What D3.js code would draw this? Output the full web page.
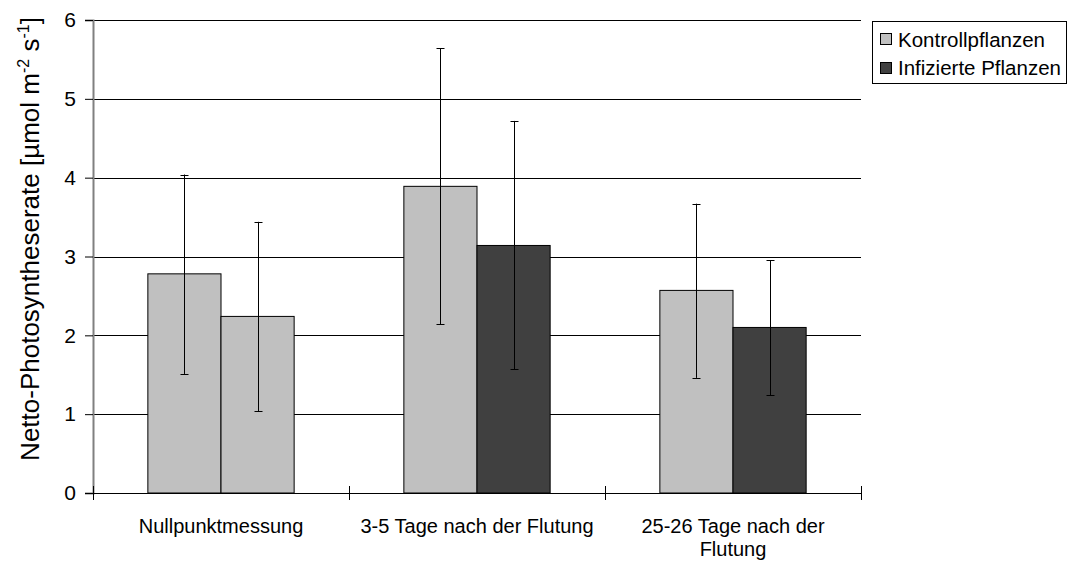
<!DOCTYPE html>
<html><head><meta charset="utf-8">
<script src="https://cdn.jsdelivr.net/npm/d3@7"></script>
<style>body{margin:0;background:#fff}svg{display:block;font-family:"Liberation Sans",Arial,sans-serif}</style>
</head><body>
<svg id="c" width="1069" height="561"></svg>
<script>
const categories = ["Nullpunktmessung", "3-5 Tage nach der Flutung", "25-26 Tage nach der Flutung"];
const categoryLines = [["Nullpunktmessung"], ["3-5 Tage nach der Flutung"], ["25-26 Tage nach der", "Flutung"]];
const seriesNames = ["Kontrollpflanzen", "Infizierte Pflanzen"];
const kontrollValues = [2.78, 3.89, 2.57];
const kontrollErrLow = [1.51, 2.14, 1.46];
const kontrollErrHigh = [4.04, 5.64, 3.67];
const infiziertValues = [2.24, 3.14, 2.10];
const infiziertErrLow = [1.04, 1.57, 1.24];
const infiziertErrHigh = [3.44, 4.72, 2.95];
const yTicks = [0, 1, 2, 3, 4, 5, 6];
// fill per bar: the first group's infected bar is light grey in the original
const infiziertFills = ["#c0c0c0", "#404040", "#404040"];
const kontrollFill = "#c0c0c0";

const svg = d3.select("#c");
const L = 93, R = 861, T = 20, B = 493;
const x0 = d3.scaleBand().domain(categories).range([L, R]).paddingInner(0).paddingOuter(0);
const y = d3.scaleLinear().domain([0, 6]).range([B, T]);
const barW = x0.bandwidth() / 3.5;

// gridlines
svg.append("g").selectAll("line").data(yTicks.filter(d => d > 0)).join("line")
  .attr("x1", L).attr("x2", R).attr("y1", d => Math.round(y(d)) + 0.5).attr("y2", d => Math.round(y(d)) + 0.5)
  .attr("stroke", "#000").attr("stroke-width", 1);

const rows = categories.map((c, i) => [
  {c, s: 0, v: kontrollValues[i], lo: kontrollErrLow[i], hi: kontrollErrHigh[i], fill: kontrollFill},
  {c, s: 1, v: infiziertValues[i], lo: infiziertErrLow[i], hi: infiziertErrHigh[i], fill: infiziertFills[i]}
]).flat();

const bx = d => x0(d.c) + x0.bandwidth() / 2 - barW + d.s * barW;

svg.append("g").selectAll("rect").data(rows).join("rect")
  .attr("x", d => bx(d)).attr("y", d => y(d.v)).attr("width", barW).attr("height", d => y(0) - y(d.v))
  .attr("fill", d => d.fill).attr("stroke", "#000").attr("stroke-width", 1);

// error bars
const eg = svg.append("g").attr("stroke", "#000").attr("stroke-width", 1);
rows.forEach(d => {
  const cx = Math.round(bx(d) + barW / 2) + 0.5;
  eg.append("line").attr("x1", cx).attr("x2", cx).attr("y1", y(d.lo)).attr("y2", y(d.hi));
  [d.lo, d.hi].forEach(v => eg.append("line").attr("x1", cx - 4).attr("x2", cx + 4).attr("y1", Math.round(y(v)) + 0.5).attr("y2", Math.round(y(v)) + 0.5));
});

// y axis
const yAxis = d3.axisLeft(y).tickValues(yTicks).tickSize(8).tickPadding(9).tickFormat(d3.format("d"));
const ya = svg.append("g").attr("transform", `translate(${L},0)`).call(yAxis);
ya.select(".domain").attr("stroke", "#808080").attr("stroke-width", 2);
ya.selectAll(".tick line").attr("stroke", "#000");
ya.selectAll(".tick text").attr("font-size", 21).attr("fill", "#000").attr("font-family", "Liberation Sans, Arial, sans-serif");

// x axis baseline and category ticks
svg.append("line").attr("x1", L).attr("x2", R).attr("y1", B + 0.5).attr("y2", B + 0.5).attr("stroke", "#000");
const xa = svg.append("g");
const bounds = [...categories.map(c => x0(c)), R];
xa.selectAll("line").data(bounds).join("line")
  .attr("x1", d => Math.round(d) + 0.5).attr("x2", d => Math.round(d) + 0.5).attr("y1", B - 7).attr("y2", B + 7)
  .attr("stroke", "#000");
categories.forEach((c, i) => {
  const t = xa.append("text").attr("x", x0(c) + x0.bandwidth() / 2).attr("y", 533)
    .attr("text-anchor", "middle").attr("font-size", 20).attr("fill", "#000");
  categoryLines[i].forEach((ln, j) => t.append("tspan").attr("x", x0(c) + x0.bandwidth() / 2).attr("dy", j === 0 ? 0 : 23).text(ln));
});

// y label
const yl = svg.append("text").attr("transform", "translate(39,239) rotate(-90)")
  .attr("text-anchor", "middle").attr("font-size", 26).attr("fill", "#000");
yl.append("tspan").text("Netto-Photosyntheserate [µmol m");
yl.append("tspan").attr("font-size", 16).attr("dy", -10).text("-2");
yl.append("tspan").attr("dy", 10).text(" s");
yl.append("tspan").attr("font-size", 16).attr("dy", -10).text("-1");
yl.append("tspan").attr("dy", 10).text("]");

// legend
const lg = svg.append("g");
lg.append("rect").attr("x", 872.5).attr("y", 21.5).attr("width", 194).attr("height", 62).attr("fill", "#fff").attr("stroke", "#000");
const legFills = [kontrollFill, infiziertFills[1]];
seriesNames.forEach((s, i) => {
  lg.append("rect").attr("x", 880.5).attr("y", 33.5 + i * 29).attr("width", 11).attr("height", 11).attr("fill", legFills[i]).attr("stroke", "#000");
  lg.append("text").attr("x", 898).attr("y", 46.5 + i * 28.5).attr("font-size", 20.5).attr("fill", "#000").text(s);
});
</script>
</body></html>
